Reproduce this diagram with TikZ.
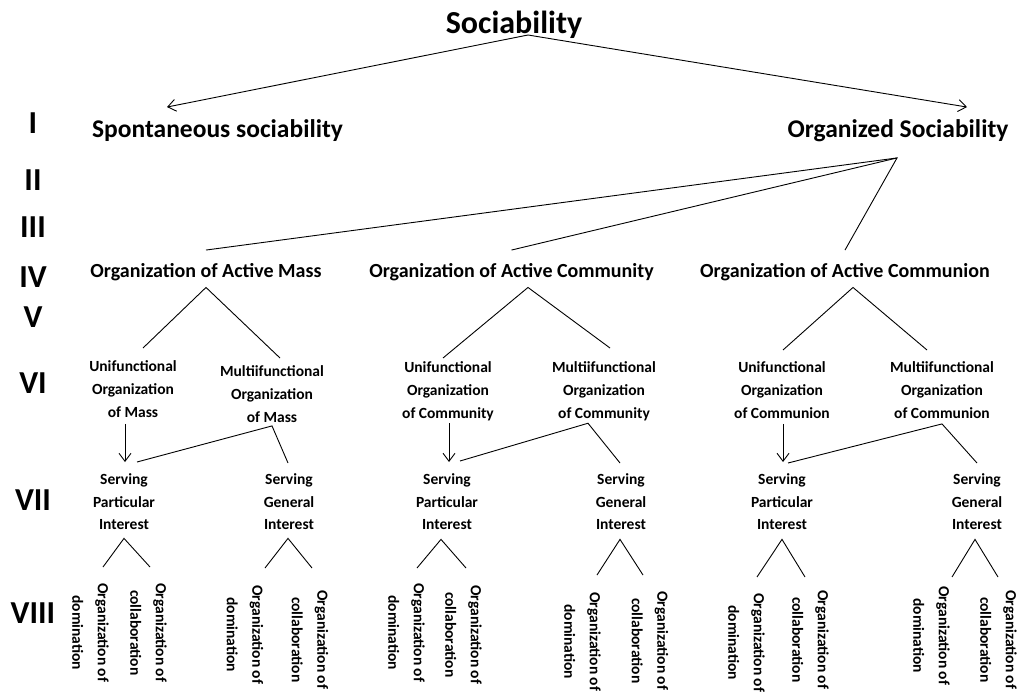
\documentclass[tikz,border=0pt]{standalone}
\usepackage{fontspec}
\setmainfont{Carlito}
\usetikzlibrary{arrows.meta}
\tikzset{
	lbl/.style = {inner sep=0pt, text=black, font=\bfseries},
	title/.style = {lbl, anchor=base, font=\fontsize{32}{38}\selectfont\bfseries},
	roman/.style = {lbl, anchor=base, font=\fontsize{32}{38}\selectfont\bfseries},
	kind/.style = {lbl, anchor=base, font=\fontsize{25.5}{30}\selectfont\bfseries,
		text height=29.5pt, text depth=20.5pt},
	org/.style = {lbl, anchor=base, font=\fontsize{20}{24}\selectfont\bfseries,
		text height=27pt, text depth=9.5pt},
	func/.style = {lbl, anchor=north, align=center, font=\fontsize{15.5}{23}\selectfont\bfseries},
	serve/.style = {lbl, anchor=north, align=center, font=\fontsize{15.5}{22.5}\selectfont\bfseries},
	leaf/.style = {lbl, anchor=west, rotate=-90, align=center,
		font=\fontsize{15.5}{25.5}\selectfont\bfseries}
}

\begin{document}
\begin{tikzpicture}[x=1pt, y=-1pt, line width=0.9pt,
>={Straight Barb[length=8pt,width=12pt]}]
\useasboundingbox (0,0) rectangle (1017,693);
%----------------- Level numbers --------------
\foreach \r/\y [count=\i] in {I/133,II/190,III/237,IV/287,V/327,VI/393,VII/510,VIII/623}
	\node (R\i) [roman] at (33,\y) {\r};
%----------------- Nodes --------------
\node (Soc) [title] at (514,33.5) {Sociability};
\node (SS) [kind] at (217.5,137) {Spontaneous sociability};
\node (OS) [kind] at (898,137) {Organized Sociability};

\node (OM) [org] at (206,277.5) {Organization of Active Mass};
\node (OC) [org] at (511.5,277.5) {Organization of Active Community};
\node (OCn) [org] at (845,277.5) {Organization of Active Communion};

\node (UM) [func] at (133,360) {Unifunctional\\Organization\\of Mass};
\node (MM) [func] at (272,365) {Multiifunctional\\Organization\\of Mass};
\node (UC) [func] at (448,361) {Unifunctional\\Organization\\of Community};
\node (MC) [func] at (604,361) {Multiifunctional\\Organization\\of Community};
\node (UCn) [func] at (782,361) {Unifunctional\\Organization\\of Communion};
\node (MCn) [func] at (942,361) {Multiifunctional\\Organization\\of Communion};

\node (SPM) [serve] at (124,473.5) {Serving\\Particular\\Interest};
\node (SGM) [serve] at (289,473.5) {Serving\\General\\Interest};
\node (SPC) [serve] at (447,473.5) {Serving\\Particular\\Interest};
\node (SGC) [serve] at (621,473.5) {Serving\\General\\Interest};
\node (SPCn) [serve] at (782,473.5) {Serving\\Particular\\Interest};
\node (SGCn) [serve] at (977,473.5) {Serving\\General\\Interest};

\node (DPM) [leaf] at (90.5,583) {Organization of\\domination};
\node (CPM) [leaf] at (148.5,583) {Organization of\\collaboration};
\node (DGM) [leaf] at (245,585) {Organization of\\domination};
\node (CGM) [leaf] at (310,590) {Organization of\\collaboration};
\node (DPC) [leaf] at (406.5,583) {Organization of\\domination};
\node (CPC) [leaf] at (463.5,585) {Organization of\\collaboration};
\node (DGC) [leaf] at (582.5,592) {Organization of\\domination};
\node (CGC) [leaf] at (650,591) {Organization of\\collaboration};
\node (DPCn) [leaf] at (746.5,593) {Organization of\\domination};
\node (CPCn) [leaf] at (810.5,590) {Organization of\\collaboration};
\node (DGCn) [leaf] at (931.5,586) {Organization of\\domination};
\node (CGCn) [leaf] at (998.5,590) {Organization of\\collaboration};
%----------------- Connectors --------------
\draw[->] ([xshift=14pt,yshift=-1.5pt]Soc.base) -- ([xshift=-50.5pt]SS.north);
\draw[->] ([xshift=14pt,yshift=-1.5pt]Soc.base) -- ([xshift=69pt]OS.north);
\draw (OM.north) -- ([xshift=-1pt]OS.south) -- (OCn.north);
\draw ([xshift=-1pt]OS.south) -- (OC.north);

\draw ([xshift=10pt,yshift=12pt]UM.north) -- (OM.south) -- ([xshift=8pt,yshift=7pt]MM.north);
\draw ([xshift=-5pt,yshift=3pt]UC.north) -- ([xshift=16.5pt]OC.south) -- ([xshift=6pt,yshift=13pt]MC.north);
\draw ([xshift=1pt,yshift=11pt]UCn.north) -- ([xshift=8pt]OCn.south) -- ([xshift=-15pt,yshift=11pt]MCn.north);

\draw[->] ([xshift=-8pt,yshift=-6pt]UM.south) -- ([xshift=1pt,yshift=11.5pt]SPM.north);
\draw ([xshift=13pt,yshift=11.5pt]SPM.north) -- ([yshift=-3pt]MM.south) -- ([xshift=-1pt,yshift=10.5pt]SGM.north);
\draw[->] ([xshift=1pt,yshift=-2pt]UC.south) -- ([xshift=2pt,yshift=11.5pt]SPC.north);
\draw ([xshift=13pt,yshift=12.5pt]SPC.north) -- ([xshift=-16pt,yshift=-2pt]MC.south) -- ([xshift=-1pt,yshift=10.5pt]SGC.north);
\draw[->] ([xshift=1pt,yshift=-5pt]UCn.south) -- ([xshift=1pt,yshift=11.5pt]SPCn.north);
\draw ([xshift=6pt,yshift=10.5pt]SPCn.north) -- ([yshift=-5pt]MCn.south) -- ([yshift=10.5pt]SGCn.north);

\draw ([xshift=12.5pt,yshift=16pt]DPM.west) -- ([yshift=-8pt]SPM.south) -- ([xshift=1.5pt,yshift=16pt]CPM.west);
\draw ([xshift=20pt,yshift=17pt]DGM.west) -- ([xshift=-1pt,yshift=-8pt]SGM.south) -- ([xshift=2pt,yshift=22pt]CGM.west);
\draw ([xshift=10.5pt,yshift=15pt]DPC.west) -- ([xshift=-6pt,yshift=-9pt]SPC.south) -- ([xshift=2.5pt,yshift=17pt]CPC.west);
\draw ([xshift=14.5pt,yshift=17pt]DGC.west) -- ([xshift=-1pt,yshift=-9pt]SGC.south) -- ([xshift=-7pt,yshift=16pt]CGC.west);
\draw ([xshift=10.5pt,yshift=16pt]DPCn.west) -- ([yshift=-9pt]SPCn.south) -- ([xshift=-5.5pt,yshift=13pt]CPCn.west);
\draw ([xshift=20.5pt,yshift=9pt]DGCn.west) -- ([xshift=-2pt,yshift=-9pt]SGCn.south) -- ([xshift=-0.5pt,yshift=13pt]CGCn.west);
\end{tikzpicture}
\end{document}
